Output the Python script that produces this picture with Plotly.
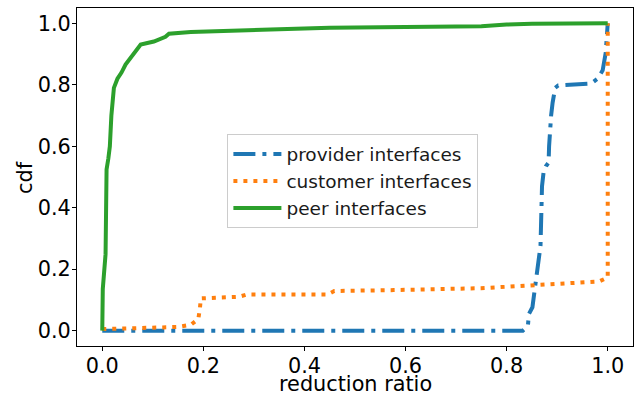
import plotly.graph_objects as go

# provider interfaces (blue, dash-dot)
prov_x = [0.0, 0.832, 0.842, 0.844, 0.851, 0.855, 0.861, 0.867, 0.870, 0.873, 0.878, 0.883, 0.884, 0.886, 0.888,
          0.891, 0.896, 0.902, 0.967, 0.980, 0.990, 0.996, 1.0, 1.0]
prov_y = [0.0, 0.0, 0.014, 0.054, 0.076, 0.125, 0.222, 0.276, 0.470, 0.514, 0.536, 0.547, 0.600, 0.687, 0.700,
          0.742, 0.790, 0.798, 0.804, 0.820, 0.847, 0.904, 0.969, 1.0]

# customer interfaces (orange, dotted)
cust_x = [0.0, 0.099, 0.150, 0.175, 0.190, 0.193, 0.195, 0.270, 0.287, 0.446, 0.459, 0.577, 0.749, 0.983, 1.0, 1.0]
cust_y = [0.005, 0.008, 0.012, 0.019, 0.038, 0.070, 0.105, 0.110, 0.118, 0.118, 0.129, 0.132, 0.138, 0.160, 0.173, 1.0]

# peer interfaces (green, solid)
peer_x = [0.0, 0.001, 0.0065, 0.0085, 0.012, 0.015, 0.018, 0.020, 0.023, 0.030, 0.038, 0.046, 0.059, 0.068, 0.076,
          0.102, 0.125, 0.132, 0.175, 0.333, 0.450, 0.600, 0.750, 0.800, 0.850, 1.0]
peer_y = [0.0, 0.135, 0.249, 0.525, 0.560, 0.600, 0.700, 0.752, 0.790, 0.820, 0.840, 0.866, 0.893, 0.910, 0.931,
          0.941, 0.956, 0.966, 0.972, 0.980, 0.986, 0.988, 0.991, 0.996, 0.999, 1.0]

x_ticks = [0.0, 0.2, 0.4, 0.6, 0.8, 1.0]
y_ticks = [0.0, 0.2, 0.4, 0.6, 0.8, 1.0]
x_title = "reduction ratio"
y_title = "cdf"

FONT = "DejaVu Sans"
FS = 20.8

fig = go.Figure()
fig.add_trace(go.Scatter(x=prov_x, y=prov_y, mode="lines", name="provider interfaces",
                         legendgroup="a",
                         line=dict(color="#1f77b4", width=4, dash="22px,7px,4px,7px")))
fig.add_trace(go.Scatter(x=cust_x, y=cust_y, mode="lines", name="customer interfaces",
                         legendgroup="b",
                         line=dict(color="#ff7f0e", width=4, dash="4px,6px")))
fig.add_trace(go.Scatter(x=peer_x, y=peer_y, mode="lines", name="peer interfaces",
                         legendgroup="c",
                         line=dict(color="#2ca02c", width=4)))

axis_common = dict(
    showgrid=False, zeroline=False, showline=True, linecolor="black", linewidth=1, mirror=True,
    ticks="outside", ticklen=4, tickwidth=1, tickcolor="black",
    tickfont=dict(family=FONT, size=FS, color="black"),
    tickformat=".1f", automargin=False,
)

fig.update_layout(
    width=642, height=397,
    margin=dict(l=77, r=9, t=8, b=51),
    paper_bgcolor="white", plot_bgcolor="white",
    font=dict(family=FONT, color="black"),
    xaxis=dict(range=[-0.05, 1.05], tickvals=x_ticks, ticklabelstandoff=-3, **axis_common),
    yaxis=dict(range=[-0.05, 1.05], tickvals=y_ticks, ticklabelstandoff=-3, **axis_common),
    legend=dict(x=0.2705, y=0.626, xanchor="left", yanchor="top",
                bgcolor="rgba(255,255,255,0.8)", bordercolor="#cccccc", borderwidth=1,
                font=dict(family=FONT, size=18.5, color="#1a1a1a"),
                traceorder="grouped", tracegroupgap=0, itemwidth=48),
    showlegend=True,
    annotations=[
        dict(text=x_title, xref="paper", yref="paper", x=0.5, y=-0.1509,
             xanchor="center", yanchor="bottom", showarrow=False, borderpad=0,
             font=dict(family=FONT, size=FS, color="black")),
        dict(text=y_title, xref="paper", yref="paper", x=-0.0945, y=0.4985,
             xanchor="center", yanchor="middle", showarrow=False, textangle=-90,
             font=dict(family=FONT, size=FS, color="black")),
    ],
)

fig.write_html("out.html")
